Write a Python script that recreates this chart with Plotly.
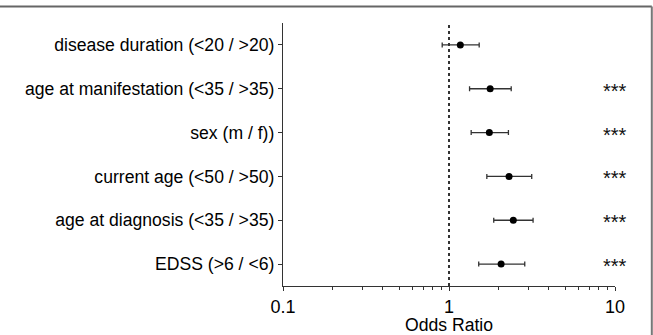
import plotly.graph_objects as go

categories = [
    "disease duration (<20 / >20)",
    "age at manifestation (<35 / >35)",
    "sex (m / f))",
    "current age (<50 / >50)",
    "age at diagnosis (<35 / >35)",
    "EDSS (>6 / <6)",
]
odds_ratio = [1.17, 1.77, 1.75, 2.30, 2.44, 2.06]
ci_lower = [0.91, 1.33, 1.36, 1.69, 1.86, 1.51]
ci_upper = [1.52, 2.37, 2.28, 3.15, 3.21, 2.86]
significance = ["", "***", "***", "***", "***", "***"]
x_tick_vals = [0.1, 1, 10]
x_tick_text = ["0.1", "1", "10"]
reference_or = 1

FONT = "Liberation Sans, Arial, sans-serif"

L, R, T, B = 283, 38, 23, 49
W, H = 653, 335
PW, PH = W - L - R, H - T - B

fig = go.Figure()
fig.add_trace(go.Scatter(
    x=odds_ratio,
    y=categories,
    mode="markers",
    marker=dict(color="black", size=7),
    error_x=dict(
        type="data",
        symmetric=False,
        array=[u - o for u, o in zip(ci_upper, odds_ratio)],
        arrayminus=[o - l for o, l in zip(odds_ratio, ci_lower)],
        color="#333333",
        thickness=1.3,
        width=2.5,
    ),
    showlegend=False,
    hoverinfo="skip",
))

for cat, s in zip(categories, significance):
    if s:
        fig.add_annotation(
            x=1, xref="x", y=cat, yref="y",
            text=s, showarrow=False,
            font=dict(family=FONT, size=20, color="#111111"),
            xanchor="center", yanchor="middle", yshift=-2,
        )

# reference line at OR = 1
fig.add_shape(type="line", xref="x", yref="paper",
              x0=reference_or, x1=reference_or, y0=0, y1=1,
              line=dict(color="#333333", width=2, dash="dot"))
# frame lines (top and right) around the picture
top_y = (H - B - 6.5) / PH
right_x = (651.8 - L) / PW
fig.add_shape(type="line", xref="paper", yref="paper",
              x0=-L / PW, x1=right_x, y0=top_y, y1=top_y,
              line=dict(color="#666666", width=2))
fig.add_shape(type="line", xref="paper", yref="paper",
              x0=right_x, x1=right_x, y0=top_y, y1=-B / PH,
              line=dict(color="#777777", width=2))

fig.update_layout(
    width=W, height=H,
    margin=dict(l=L, r=R, t=T, b=B, autoexpand=False),
    paper_bgcolor="white", plot_bgcolor="white",
    font=dict(family=FONT, size=17.6, color="black"),
    xaxis=dict(
        type="log", range=[-1, 1],
        tickvals=x_tick_vals, ticktext=x_tick_text,
        ticks="outside", ticklen=4, tickwidth=1.3, tickcolor="#333333",
        showline=True, linecolor="#333333", linewidth=1.3,
        showgrid=False, zeroline=False, automargin=False,
        minor=dict(ticks="outside", ticklen=3, tickcolor="#333333", dtick="D1", showgrid=False),
        title=dict(text="Odds Ratio", font=dict(size=17.6), standoff=2),
        tickfont=dict(size=18),
    ),
    yaxis=dict(
        type="category", categoryorder="array", categoryarray=categories,
        range=[5.5, -0.5],
        ticks="outside", ticklen=4, tickwidth=1.3, tickcolor="#333333",
        showline=True, linecolor="#333333", linewidth=1.3,
        showgrid=False, zeroline=False, automargin=False,
        tickfont=dict(size=17.6),
    ),
)

fig.write_html("out.html", config={"displayModeBar": False},
               post_script="document.body.style.margin='0';")
